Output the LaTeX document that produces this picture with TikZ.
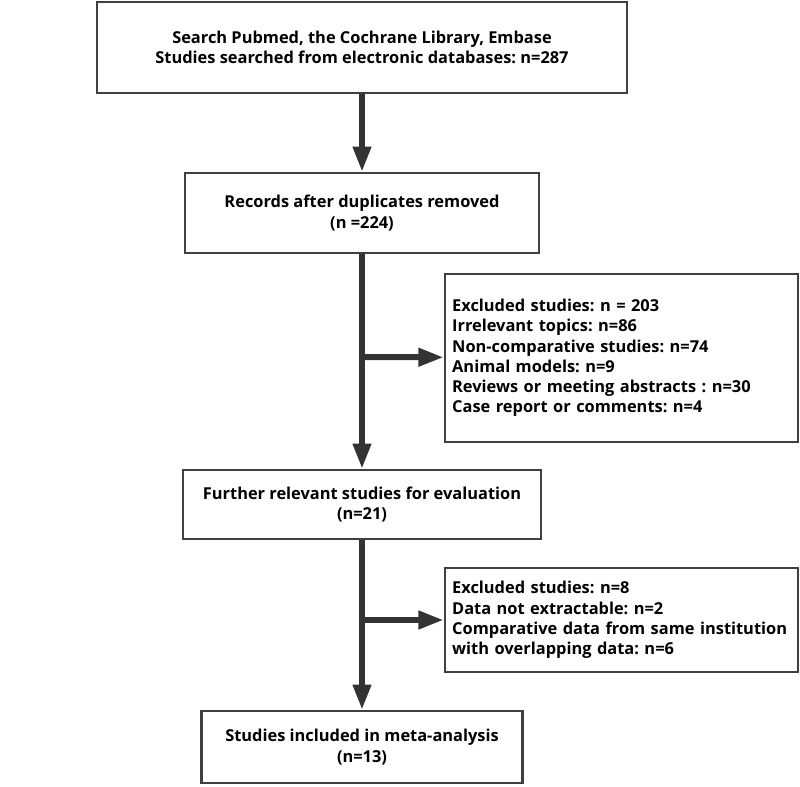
\documentclass[tikz,border=0pt]{standalone}
\usepackage{fontspec}
\setmainfont{Open Sans}
\usetikzlibrary{arrows.meta}
\colorlet{boxline}{black!75}
\colorlet{flowline}{black!80}
\tikzset{
	stage/.style={draw=boxline,line width=1.6pt,fill=white,align=center,inner sep=0pt,
		font=\fontsize{12.3}{15.2}\selectfont\bfseries\frenchspacing},
	excl/.style={draw=boxline,line width=1.6pt,fill=white,align=left,inner xsep=5.5pt,inner ysep=0pt,
		text width=254pt,font=\fontsize{12.3}{15.2}\selectfont\bfseries\frenchspacing},
	flow/.style={draw=flowline,line width=4.5pt,-{Triangle[length=19pt,width=13pt]}},
	trunk/.style={draw=flowline,line width=4.5pt},
	}
\begin{document}
\begin{tikzpicture}[x=0.75pt,y=-0.75pt]
\useasboundingbox (0,0) rectangle (800,787);
%BOXES
\node[stage,minimum width=397.5pt,minimum height=68.25pt] (search) at (362,47.5)
	{Search Pubmed, the Cochrane Library, Embase\\Studies searched from electronic databases: n=287};
\node[stage,minimum width=265.5pt,minimum height=60pt] (records) at (362,213)
	{Records after duplicates removed\\(n =224)};
\node[excl,minimum height=126pt] (ex1) at (621.5,358)
	{Excluded studies: n = 203\\Irrelevant topics: n=86\\Non-comparative studies: n=74\\Animal models: n=9\\Reviews or meeting abstracts : n=30\\Case report or comments: n=4};
\node[stage,minimum width=268.5pt,minimum height=51.75pt] (further) at (362,504.5)
	{Further relevant studies for evaluation\\(n=21)};
\node[excl,minimum height=78pt] (ex2) at (621.5,620)
	{Excluded studies: n=8\\Data not extractable: n=2\\Comparative data from same institution\\with overlapping data: n=6};
\node[stage,minimum width=240.75pt,minimum height=54pt] (incl) at (362,747)
	{Studies included in meta-analysis\\(n=13)};
%BRANCH POINTS
\coordinate (j1) at (362,357);
\coordinate (j2) at (362,620);
%ARROWS
\draw[flow] (search) -- (records);
\draw[trunk] (records) -- (j1);
\draw[flow] (j1) -- (further);
\draw[trunk] (further) -- (j2);
\draw[flow] (j2) -- (incl);
\draw[flow] (j1) -- (ex1);
\draw[flow] (j2) -- (ex2);
\end{tikzpicture}
\end{document}
